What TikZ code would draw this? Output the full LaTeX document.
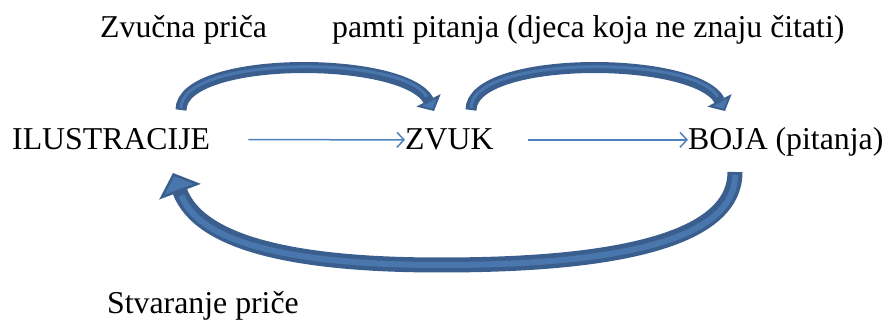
\documentclass[tikz,border=0pt]{standalone}
\usepackage{fontspec}
\setmainfont{Liberation Serif}
\usetikzlibrary{arrows.meta}
\definecolor{arcline}{HTML}{3A5F8E}
\definecolor{arcfill}{HTML}{4A76AE}
\definecolor{thinblue}{HTML}{4F81BD}
\tikzset{
  lbl/.style={inner sep=0pt, anchor=base west, font=\fontsize{31.8}{38}\selectfont},
  thinarrow/.style={thinblue, line width=1.5pt, -{Straight Barb[length=7pt,width=15pt]}},
  toparc/.style={arcline, line width=11pt, -{Triangle[length=12pt,width=27pt,line width=2pt,fill=arcfill]}},
  botarc/.style={arcline, line width=15pt, -{Triangle[length=20pt,width=44pt,line width=2.5pt,fill=arcfill]}},
  arcinner/.style={arcfill, line width=#1}
}
\begin{document}
\begin{tikzpicture}[x=1pt,y=-1pt]
\useasboundingbox (0,0) rectangle (883,320);
\node[lbl] (ilu) at (12,150) {ILUSTRACIJE};
\node[lbl] (zvuk) at (405,150) {ZVUK};
\node[lbl] (boja) at (688,150) {BOJA (pitanja)};
\node[lbl] (zvucna) at (100,38) {Zvučna priča};
\node[lbl] (pamti) at (332,38) {pamti pitanja (djeca koja ne znaju čitati)};
\node[lbl] (stvar) at (107,313) {Stvaranje priče};
\coordinate (a1) at (181,110);
\coordinate (b1) at (434,111);
\coordinate (a2) at (471,110);
\coordinate (b2) at (725,111);
\coordinate (a3) at (735,172);
\coordinate (b3) at (173,173);
\draw[thinarrow, shorten <=38pt] (ilu.east) -- (zvuk.west);
\draw[thinarrow, shorten <=34pt] (zvuk.east) -- (zvuk.east -| boja.west);
\draw[toparc] (a1) .. controls (181,55) and (405,55) .. (b1);
\draw[arcinner=3pt, shorten <=2pt, shorten >=16pt] (a1) .. controls (181,55) and (405,55) .. (b1);
\draw[toparc] (a2) .. controls (471,55) and (696,55) .. (b2);
\draw[arcinner=3pt, shorten <=2pt, shorten >=16pt] (a2) .. controls (471,55) and (696,55) .. (b2);
\draw[botarc] (a3) .. controls (735,252) and (570,265) .. (440,265) .. controls (300,265) and (200,245) .. (b3);
\draw[arcinner=6pt, shorten <=3pt, shorten >=24pt] (a3) .. controls (735,252) and (570,265) .. (440,265) .. controls (300,265) and (200,245) .. (b3);
\end{tikzpicture}
\end{document}
